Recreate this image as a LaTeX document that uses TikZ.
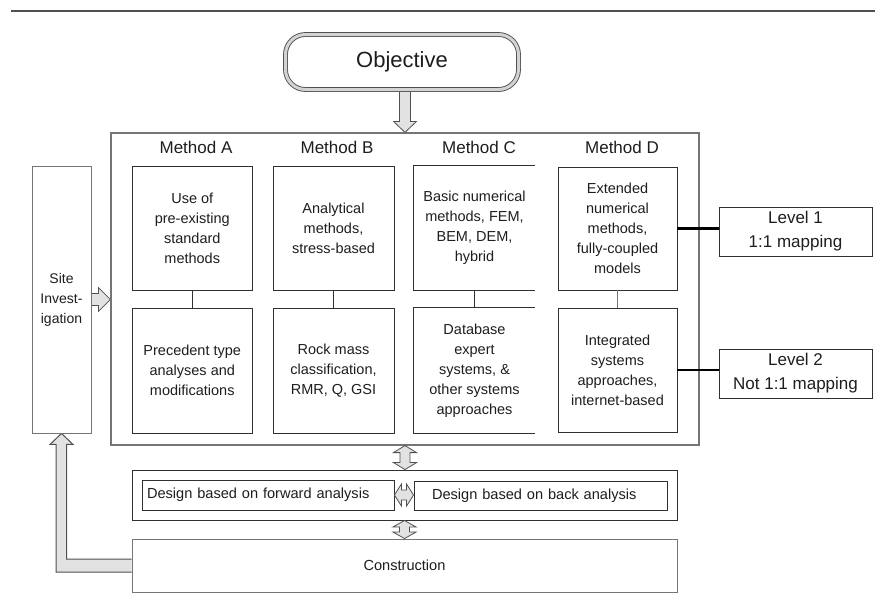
\documentclass[tikz,border=0pt]{standalone}
\usepackage{fontspec}
\setmainfont{Liberation Sans}
\usetikzlibrary{calc,backgrounds}
\definecolor{txt}{HTML}{1E1E1E}
\definecolor{boxc}{HTML}{303030}
\definecolor{mainc}{HTML}{757575}
\definecolor{arrc}{HTML}{505050}
\definecolor{arrf}{HTML}{E2E2E2}
\definecolor{dblc}{HTML}{D3D3D3}
\begin{document}
\begin{tikzpicture}[x=1pt,y=-1pt,
  every node/.style={text=txt},
  box/.style={draw=boxc, line width=0.9pt, fill=white, align=center, inner sep=0pt,
    font=\fontsize{14.5}{20}\selectfont},
  openbox/.style={box, draw=none},
  boxline/.style={draw=boxc, line width=0.9pt},
  header/.style={font=\fontsize{17}{20}\selectfont, inner sep=0pt},
  levelbox/.style={draw=boxc, line width=0.9pt, fill=white, align=center, inner sep=0pt,
    minimum width=153, minimum height=49, font=\fontsize{17}{24}\selectfont},
  levline/.style={draw=black, line width=2.3pt},
  link/.style={draw=boxc, line width=0.9pt},
  barrow/.style={draw=arrc, fill=arrf, line width=0.8pt, line join=miter},
  frame/.style={draw=mainc, line width=1.2pt, fill=white, inner sep=0pt}
]
\useasboundingbox (0,0) rectangle (875,603);

% top rule
\coordinate (r1) at (11,11);
\coordinate (r2) at (875,11);
\draw[draw=arrc, line width=2pt] (r1) -- (r2);

% main frame
\node[frame, minimum width=588, minimum height=312] (main) at (405,289) {};

% objective
\node[draw=arrc, line width=0.9pt, double=dblc, double distance=3pt, rounded corners=20pt,
  fill=white, minimum width=233, minimum height=55, inner sep=0pt,
  font=\fontsize{22}{24}\selectfont] (obj) at (402,62) {Objective};

% headers
\node[header] (ha) at (196,147) {Method A};
\node[header] (hb) at (337,147) {Method B};
\node[header] (hc) at (479,147) {Method C};
\node[header] (hd) at (622,147) {Method D};

% top row
\node[box, minimum width=120.5, minimum height=124] (atop) at (192.25,228)
  {Use of\\pre-existing\\standard\\methods};
\node[box, minimum width=121, minimum height=124] (btop) at (333.5,228)
  {Analytical\\methods,\\stress-based};
\node[openbox, minimum width=121, minimum height=124] (ctop) at (474.5,228)
  {Basic numerical\\methods, FEM,\\BEM, DEM,\\hybrid};
\draw[boxline] (ctop.north east) -- (ctop.north west) -- (ctop.south west) -- (ctop.south east);
\node[box, minimum width=119, minimum height=123] (dtop) at (617.5,228.5)
  {Extended\\numerical\\methods,\\fully-coupled\\models};

% bottom row
\node[box, minimum width=120.5, minimum height=125] (abot) at (192.25,370.5)
  {Precedent type\\analyses and\\modifications};
\node[box, minimum width=121, minimum height=125] (bbot) at (333.5,370.5)
  {Rock mass\\classification,\\RMR, Q, GSI};
\node[openbox, minimum width=121, minimum height=125] (cbot) at (474.5,370.5)
  {Database\\expert\\systems, \&\\other systems\\approaches};
\draw[boxline] (cbot.north east) -- (cbot.north west) -- (cbot.south west) -- (cbot.south east);
\node[box, minimum width=119, minimum height=124] (dbot) at (617.5,370)
  {Integrated\\systems\\approaches,\\internet-based};

% vertical links
\draw[link] (atop) -- (abot);
\draw[link] (btop) -- (bbot);
\draw[link] (ctop) -- (cbot);
\draw[link, draw=mainc, line width=0.8pt] (dtop) -- (dbot);

% site investigation
\node[box, draw=mainc, minimum width=59, minimum height=267, font=\fontsize{14}{20}\selectfont]
  (site) at (61.5,299.5) {Site\\Invest-\\igation};

% levels
\node[levelbox] (lev1) at (795.5,231.5) {Level 1\\1:1 mapping};
\node[levelbox] (lev2) at (795.5,373.5) {Level 2\\Not 1:1 mapping};
\draw[levline] (dtop.east) -- (dtop.east -| lev1.west);
\draw[levline] (dbot.east) -- (dbot.east -| lev2.west);

% design
\node[box, draw=boxc, minimum width=545, minimum height=50] (design) at (404.5,495) {};
\node[box, inner xsep=5pt, text width=242, align=left, minimum height=30,
  font=\fontsize{14.6}{18}\selectfont] (fwd) at (268,495)
  {Design based on forward analysis};
\node[box, inner xsep=18pt, text width=217, align=left, minimum height=29,
  font=\fontsize{14.6}{18}\selectfont] (back) at (540.5,495.5)
  {Design based on back analysis};

% construction
\node[box, draw=mainc, minimum width=545, minimum height=53,
  font=\fontsize{14.6}{18}\selectfont] (cons) at (404.5,565.5) {Construction};

% block arrows
\begin{scope}[on background layer]
  % objective -> main
  \coordinate (oa) at (obj.south -| main.north);
  \draw[barrow] ([shift={(-5.5,0)}]oa) -- ([shift={(-5.5,-11)}]main.north)
    -- ([shift={(-11.5,-11)}]main.north) -- (main.north)
    -- ([shift={(11.5,-11)}]main.north) -- ([shift={(5.5,-11)}]main.north)
    -- ([shift={(5.5,0)}]oa);
  % site -> main
  \coordinate (sa) at (site.east);
  \coordinate (sb) at (site.east -| main.west);
  \draw[barrow] ([shift={(0,-6)}]sa) -- ([shift={(-12,-6)}]sb)
    -- ([shift={(-12,-12)}]sb) -- (sb) -- ([shift={(-12,12)}]sb)
    -- ([shift={(-12,6)}]sb) -- ([shift={(0,6)}]sa);
  % construction -> site (feedback)
  \coordinate (fc) at (cons.west -| site.south);
  \draw[barrow, line width=1pt] ([shift={(0,-6.5)}]cons.west) -- ([shift={(5,-6.5)}]fc)
    -- ([shift={(5,11)}]site.south) -- ([shift={(11.5,11)}]site.south)
    -- (site.south) -- ([shift={(-11.5,11)}]site.south)
    -- ([shift={(-5.5,11)}]site.south) -- ([shift={(-5.5,6.5)}]fc)
    -- ([shift={(0,6.5)}]cons.west);
\end{scope}

% main <-> design
\coordinate (m1) at (main.south);
\coordinate (m2) at (m1 |- design.north);
\draw[barrow] (m1) -- ([shift={(11.5,7)}]m1) -- ([shift={(5,7)}]m1)
  -- ([shift={(5,-7)}]m2) -- ([shift={(11.5,-7)}]m2) -- (m2)
  -- ([shift={(-11.5,-7)}]m2) -- ([shift={(-5,-7)}]m2)
  -- ([shift={(-5,7)}]m1) -- ([shift={(-11.5,7)}]m1) -- cycle;
% design <-> construction
\coordinate (c1) at (design.south);
\coordinate (c2) at (cons.north);
\draw[barrow] (c1) -- ([shift={(11.5,6.5)}]c1) -- ([shift={(5,6.5)}]c1)
  -- ([shift={(5,-6.5)}]c2) -- ([shift={(11.5,-6.5)}]c2) -- (c2)
  -- ([shift={(-11.5,-6.5)}]c2) -- ([shift={(-5,-6.5)}]c2)
  -- ([shift={(-5,6.5)}]c1) -- ([shift={(-11.5,6.5)}]c1) -- cycle;
% forward <-> back
\coordinate (f1) at (fwd.east);
\coordinate (f2) at (fwd.east -| back.west);
\draw[barrow] (f1) -- ([shift={(7,-11)}]f1) -- ([shift={(7,-5)}]f1)
  -- ([shift={(-7,-5)}]f2) -- ([shift={(-7,-11)}]f2) -- (f2)
  -- ([shift={(-7,11)}]f2) -- ([shift={(-7,5)}]f2)
  -- ([shift={(7,5)}]f1) -- ([shift={(7,11)}]f1) -- cycle;
\end{tikzpicture}
\end{document}
